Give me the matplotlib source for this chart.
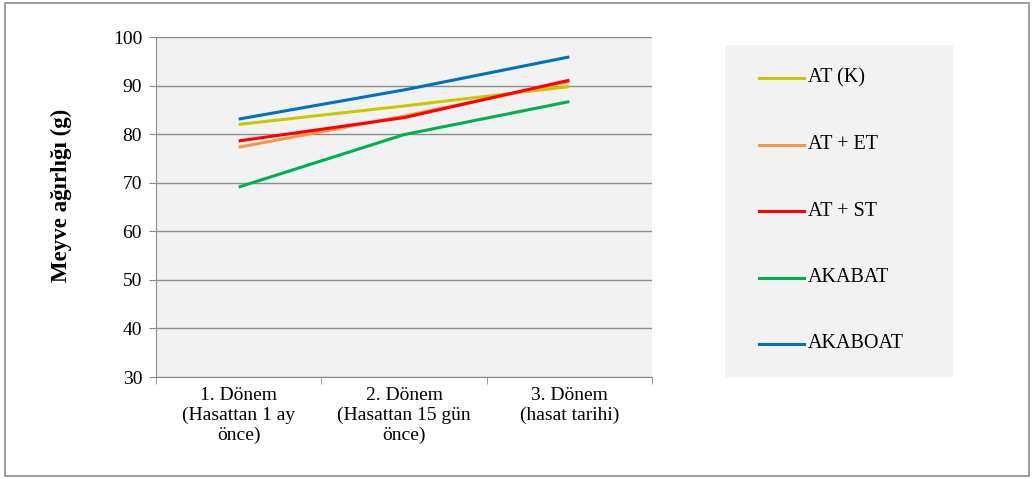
import matplotlib
matplotlib.use("Agg")
import matplotlib.pyplot as plt
from matplotlib.patches import Rectangle
from matplotlib.lines import Line2D

categories = ["1. Dönem\n(Hasattan 1 ay\nönce)", "2. Dönem\n(Hasattan 15 gün\nönce)", "3. Dönem\n(hasat tarihi)"]
series_names = ["AT (K)", "AT + ET", "AT + ST", "AKABAT", "AKABOAT"]
at_k = [82.0, 85.8, 89.8]
at_et = [77.3, 83.7, 90.8]
at_st = [78.6, 83.4, 91.1]
akabat = [69.1, 79.9, 86.7]
akaboat = [83.1, 89.1, 95.9]
series_values = [at_k, at_et, at_st, akabat, akaboat]
colors = ["#C8C800", "#F79646", "#FF0000", "#00B050", "#0070C0"]
yticks = [30, 40, 50, 60, 70, 80, 90, 100]

plt.rcParams['font.family'] = ['Liberation Serif', 'DejaVu Serif']

W, H = 1034, 479
fig = plt.figure(figsize=(W/100, H/100), dpi=100)
fig.patch.set_facecolor("white")
# outer border
fig.add_artist(Rectangle((5/W, 3/H), 1024/W, 473/H, transform=fig.transFigure,
                         fill=False, edgecolor="#8C8C8C", linewidth=1.2))

ax = fig.add_axes([156/W, 1 - 377/H, (652-156)/W, (377-37)/H])
ax.set_facecolor("#F2F2F2")
x = [0, 1, 2]
for vals, c, name in zip(series_values, colors, series_names):
    ax.plot(x, vals, color=c, linewidth=2.2, label=name, solid_capstyle="butt")

ax.set_xlim(-0.5, 2.5)
ax.set_ylim(30, 100)
ax.set_yticks(yticks)
ax.set_yticklabels([str(v) for v in yticks], fontsize=14)
ax.yaxis.grid(True, color="#8C8C8C", linewidth=1.0)
ax.set_axisbelow(True)
ax.set_xticks(x)
ax.set_xticklabels(categories, fontsize=14, linespacing=1.2)
ax.tick_params(axis="x", length=0, pad=7)
ax.set_xticks([-0.5, 0.5, 1.5, 2.5], minor=True)
ax.tick_params(axis="x", which="minor", length=5, color="#8C8C8C", direction="out")
ax.tick_params(axis="y", length=5, color="#8C8C8C", direction="out", pad=5)
for s in ["top", "right"]:
    ax.spines[s].set_visible(False)
ax.spines["left"].set_color("#8C8C8C")
ax.spines["bottom"].set_color("#8C8C8C")
fig.text(61/W, 1 - 195/H, "Meyve ağırlığı (g)", fontsize=16.5, fontweight="bold",
         rotation=90, ha="center", va="center")

# legend panel
lax = fig.add_axes([725/W, 1 - 377/H, (953-725)/W, (377-45)/H])
lax.set_facecolor("#F2F2F2")
for s in lax.spines.values():
    s.set_visible(False)
lax.set_xticks([]); lax.set_yticks([])
lax.set_xlim(0, 228); lax.set_ylim(332, 0)
for i, (name, c) in enumerate(zip(series_names, colors)):
    yy = 33 + i * 66.5
    lax.add_line(Line2D([34, 79], [yy, yy], color=c, linewidth=2.2))
    lax.text(83, yy, name, fontsize=14.5, va="center", ha="left")

fig.savefig("out.png", dpi=100)
